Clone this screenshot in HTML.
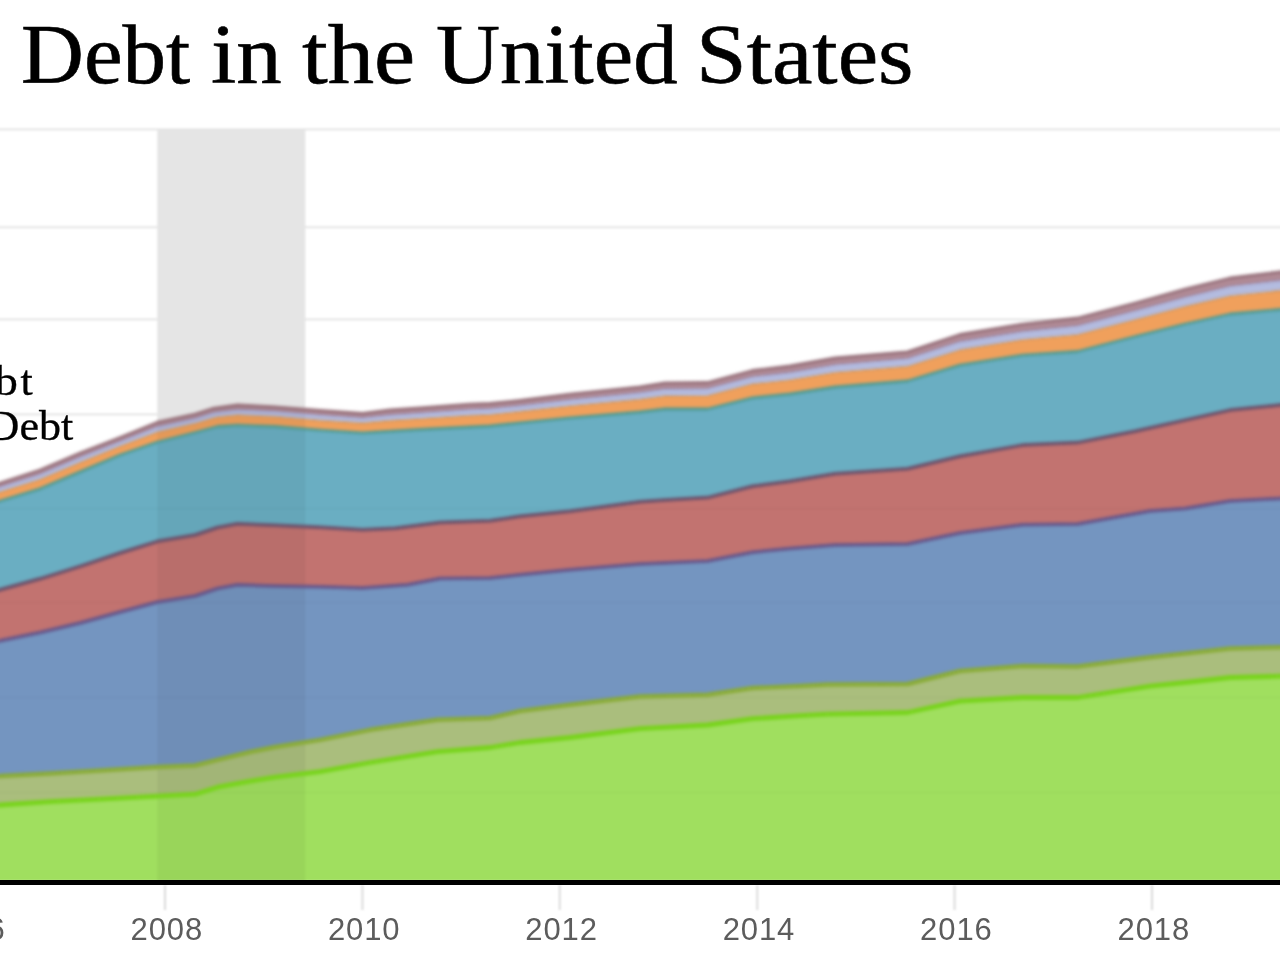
<!DOCTYPE html>
<html><head><meta charset="utf-8"><title>Debt in the United States</title>
<style>
html,body{margin:0;padding:0;background:#fff;overflow:hidden;}
body{width:1280px;height:960px;overflow:hidden;position:relative;}
.title{position:absolute;top:12.7px;font-family:"Liberation Serif",serif;font-size:84px;line-height:84px;color:#000;white-space:nowrap;transform-origin:0 0;-webkit-text-stroke:0.6px #000;}
.leg{position:absolute;font-family:"Liberation Serif",serif;font-size:42px;line-height:42px;color:#000;white-space:nowrap;text-align:right;transform-origin:100% 0;transform:scaleX(1.05);-webkit-text-stroke:0.3px #000;}
#title,.leg,.tick{filter:blur(0.6px);}
.tick{position:absolute;top:912px;width:120px;text-align:center;font-family:"Liberation Sans",sans-serif;font-size:31px;line-height:36px;color:#5c5c5c;letter-spacing:0.9px;text-indent:3.6px;}
#page{position:absolute;left:0;top:0;width:1280px;height:960px;overflow:hidden;background:#fff;}
</style></head><body>
<div id="page">
<svg width="1320" height="1000" viewBox="-20 -20 1320 1000" style="position:absolute;left:-20px;top:-20px;filter:blur(0.8px)">
<rect x="-20" y="128.2" width="1320" height="2.4" fill="#e9e9e9"/>
<rect x="-20" y="226.0" width="1320" height="2.4" fill="#e9e9e9"/>
<rect x="-20" y="318.2" width="1320" height="2.4" fill="#e9e9e9"/>
<rect x="-20" y="413.2" width="1320" height="2.4" fill="#e9e9e9"/>
<rect x="157.3" y="129" width="148" height="754" fill="#e5e5e5"/>
<polygon points="-20.0,805.7 0.0,805.0 50.0,801.7 100.0,799.2 157.5,796.2 195.0,794.2 217.5,787.2 250.0,781.2 275.0,777.2 320.0,771.7 370.0,762.5 437.5,751.7 490.0,747.5 520.0,742.5 570.0,737.5 640.0,728.7 707.5,725.0 752.5,718.7 800.0,715.7 827.5,714.2 907.5,712.5 960.0,701.2 1022.5,697.5 1077.5,697.5 1150.0,686.2 1185.0,682.5 1230.0,677.5 1280.0,676.2 1300.0,676.0 1300.0,881.0 -20.0,881.0" fill="#a0df5f"/>
<polygon points="-20.0,776.5 0.0,776.0 50.0,773.5 100.0,770.5 157.5,767.0 195.0,765.5 217.5,759.8 250.0,752.0 275.0,747.0 320.0,739.8 370.0,729.8 437.5,719.8 490.0,718.0 520.0,711.0 570.0,704.8 640.0,696.5 707.5,694.8 752.5,688.0 800.0,686.0 827.5,684.5 907.5,684.0 960.0,671.0 1022.5,666.0 1077.5,666.5 1150.0,657.2 1185.0,653.5 1230.0,648.5 1280.0,647.2 1300.0,647.0 1300.0,676.0 1280.0,676.2 1230.0,677.5 1185.0,682.5 1150.0,686.2 1077.5,697.5 1022.5,697.5 960.0,701.2 907.5,712.5 827.5,714.2 800.0,715.7 752.5,718.7 707.5,725.0 640.0,728.7 570.0,737.5 520.0,742.5 490.0,747.5 437.5,751.7 370.0,762.5 320.0,771.7 275.0,777.2 250.0,781.2 217.5,787.2 195.0,794.2 157.5,796.2 100.0,799.2 50.0,801.7 0.0,805.0 -20.0,805.7" fill="#aabe7d"/>
<polygon points="-20.0,643.0 0.0,640.8 40.0,632.5 80.0,623.0 120.0,612.0 157.5,602.0 195.0,596.0 217.5,588.5 237.5,584.8 275.0,586.0 320.0,586.8 362.5,588.0 407.5,584.8 440.0,578.5 490.0,578.0 520.0,574.8 570.0,569.8 640.0,564.0 707.5,561.0 752.5,552.2 790.0,548.5 835.0,545.0 907.5,544.0 960.0,533.0 1022.5,524.8 1077.5,524.0 1150.0,511.0 1185.0,508.5 1230.0,501.0 1280.0,498.5 1300.0,498.0 1300.0,647.0 1280.0,647.2 1230.0,648.5 1185.0,653.5 1150.0,657.2 1077.5,666.5 1022.5,666.0 960.0,671.0 907.5,684.0 827.5,684.5 800.0,686.0 752.5,688.0 707.5,694.8 640.0,696.5 570.0,704.8 520.0,711.0 490.0,718.0 437.5,719.8 370.0,729.8 320.0,739.8 275.0,747.0 250.0,752.0 217.5,759.8 195.0,765.5 157.5,767.0 100.0,770.5 50.0,773.5 0.0,776.0 -20.0,776.5" fill="#7495c0"/>
<polygon points="-20.0,594.3 0.0,589.8 40.0,578.8 80.0,566.3 120.0,553.0 157.5,541.3 195.0,535.0 217.5,527.5 237.5,523.8 275.0,525.3 320.0,527.3 362.5,529.8 395.0,528.3 440.0,522.5 490.0,520.8 520.0,516.3 570.0,511.3 640.0,501.8 665.0,500.1 707.5,497.6 752.5,486.3 790.0,481.3 835.0,473.8 907.5,468.8 960.0,456.3 1022.5,445.1 1077.5,442.6 1135.0,431.3 1185.0,420.1 1230.0,410.1 1280.0,405.1 1300.0,404.3 1300.0,498.0 1280.0,498.5 1230.0,501.0 1185.0,508.5 1150.0,511.0 1077.5,524.0 1022.5,524.8 960.0,533.0 907.5,544.0 835.0,545.0 790.0,548.5 752.5,552.2 707.5,561.0 640.0,564.0 570.0,569.8 520.0,574.8 490.0,578.0 440.0,578.5 407.5,584.8 362.5,588.0 320.0,586.8 275.0,586.0 237.5,584.8 217.5,588.5 195.0,596.0 157.5,602.0 120.0,612.0 80.0,623.0 40.0,632.5 0.0,640.8 -20.0,643.0" fill="#c27370"/>
<polygon points="-20.0,505.5 0.0,501.0 40.0,488.8 80.0,471.9 120.0,455.0 157.5,442.0 195.0,432.5 217.5,426.5 237.5,425.2 275.0,426.5 320.0,430.2 362.5,432.8 420.0,429.5 490.0,426.0 520.0,422.8 570.0,417.8 640.0,412.0 665.0,409.0 707.5,409.0 752.5,397.8 790.0,394.0 835.0,387.0 907.5,381.0 960.0,365.2 1022.5,355.2 1077.5,351.5 1135.0,336.5 1185.0,324.0 1230.0,314.0 1280.0,309.5 1300.0,308.5 1300.0,404.3 1280.0,405.1 1230.0,410.1 1185.0,420.1 1135.0,431.3 1077.5,442.6 1022.5,445.1 960.0,456.3 907.5,468.8 835.0,473.8 790.0,481.3 752.5,486.3 707.5,497.6 665.0,500.1 640.0,501.8 570.0,511.3 520.0,516.3 490.0,520.8 440.0,522.5 395.0,528.3 362.5,529.8 320.0,527.3 275.0,525.3 237.5,523.8 217.5,527.5 195.0,535.0 157.5,541.3 120.0,553.0 80.0,566.3 40.0,578.8 0.0,589.8 -20.0,594.3" fill="#6aaec2"/>
<polygon points="-20.0,496.5 0.0,492.0 40.0,479.4 80.0,462.4 120.0,446.2 157.5,432.1 195.0,423.4 212.5,418.2 217.5,417.1 237.5,415.1 275.0,416.6 320.0,420.4 362.5,423.1 390.0,420.6 420.0,418.8 470.0,415.6 490.0,414.8 520.0,411.6 570.0,406.0 640.0,399.4 665.0,396.0 707.5,395.8 752.5,384.1 790.0,380.0 835.0,372.5 907.5,366.4 960.0,349.9 1022.5,339.8 1077.5,334.8 1135.0,319.8 1185.0,306.6 1230.0,296.0 1280.0,290.6 1300.0,289.5 1300.0,308.5 1280.0,309.5 1230.0,314.0 1185.0,324.0 1135.0,336.5 1077.5,351.5 1022.5,355.2 960.0,365.2 907.5,381.0 835.0,387.0 790.0,394.0 752.5,397.8 707.5,409.0 665.0,409.0 640.0,412.0 570.0,417.8 520.0,422.8 490.0,426.0 420.0,429.5 362.5,432.8 320.0,430.2 275.0,426.5 237.5,425.2 217.5,426.5 195.0,432.5 157.5,442.0 120.0,455.0 80.0,471.9 40.0,488.8 0.0,501.0 -20.0,505.5" fill="#f0a05c"/>
<polygon points="-20.0,491.6 0.0,487.1 40.0,474.3 80.0,457.3 120.0,441.5 157.5,426.8 195.0,418.4 212.5,412.9 217.5,412.1 237.5,409.7 275.0,411.3 320.0,415.0 362.5,417.9 390.0,414.9 420.0,412.9 470.0,409.5 490.0,408.7 520.0,405.6 570.0,399.7 640.0,392.6 665.0,389.0 707.5,388.6 752.5,376.8 790.0,372.4 835.0,364.7 907.5,358.5 960.0,341.6 1022.5,331.4 1077.5,325.7 1135.0,310.7 1185.0,297.2 1230.0,286.3 1280.0,280.4 1300.0,279.2 1300.0,289.5 1280.0,290.6 1230.0,296.0 1185.0,306.6 1135.0,319.8 1077.5,334.8 1022.5,339.8 960.0,349.9 907.5,366.4 835.0,372.5 790.0,380.0 752.5,384.1 707.5,395.8 665.0,396.0 640.0,399.4 570.0,406.0 520.0,411.6 490.0,414.8 470.0,415.6 420.0,418.8 390.0,420.6 362.5,423.1 320.0,420.4 275.0,416.6 237.5,415.1 217.5,417.1 212.5,418.2 195.0,423.4 157.5,432.1 120.0,446.2 80.0,462.4 40.0,479.4 0.0,492.0 -20.0,496.5" fill="#b4bce0"/>
<polygon points="-20.0,487.5 0.0,483.0 40.0,470.0 80.0,453.0 120.0,437.5 157.5,422.2 195.0,414.2 212.5,408.5 237.5,405.0 275.0,406.8 320.0,410.5 362.5,413.5 390.0,410.0 420.0,408.0 470.0,404.2 490.0,403.5 520.0,400.5 570.0,394.2 640.0,386.8 665.0,383.0 707.5,382.5 752.5,370.5 790.0,366.0 835.0,358.0 907.5,351.8 960.0,334.5 1022.5,324.2 1077.5,318.0 1135.0,303.0 1185.0,289.2 1230.0,278.0 1280.0,271.8 1300.0,270.5 1300.0,279.2 1280.0,280.4 1230.0,286.3 1185.0,297.2 1135.0,310.7 1077.5,325.7 1022.5,331.4 960.0,341.6 907.5,358.5 835.0,364.7 790.0,372.4 752.5,376.8 707.5,388.6 665.0,389.0 640.0,392.6 570.0,399.7 520.0,405.6 490.0,408.7 470.0,409.5 420.0,412.9 390.0,414.9 362.5,417.9 320.0,415.0 275.0,411.3 237.5,409.7 217.5,412.1 212.5,412.9 195.0,418.4 157.5,426.8 120.0,441.5 80.0,457.3 40.0,474.3 0.0,487.1 -20.0,491.6" fill="#b08a95"/>
<rect x="-20" y="507.8" width="1320" height="2" fill="#000" opacity="0.02"/>
<rect x="-20" y="601.5" width="1320" height="2" fill="#000" opacity="0.02"/>
<rect x="-20" y="696.5" width="1320" height="2" fill="#000" opacity="0.02"/>
<rect x="-20" y="791.5" width="1320" height="2" fill="#000" opacity="0.02"/>
<clipPath id="ca"><polygon points="-20.0,487.5 0.0,483.0 40.0,470.0 80.0,453.0 120.0,437.5 157.5,422.2 195.0,414.2 212.5,408.5 237.5,405.0 275.0,406.8 320.0,410.5 362.5,413.5 390.0,410.0 420.0,408.0 470.0,404.2 490.0,403.5 520.0,400.5 570.0,394.2 640.0,386.8 665.0,383.0 707.5,382.5 752.5,370.5 790.0,366.0 835.0,358.0 907.5,351.8 960.0,334.5 1022.5,324.2 1077.5,318.0 1135.0,303.0 1185.0,289.2 1230.0,278.0 1280.0,271.8 1300.0,270.5 1300.0,881.0 -20.0,881.0"/></clipPath>
<rect x="157.3" y="395" width="148" height="488" fill="#000" opacity="0.045" clip-path="url(#ca)"/>
<g style="filter:blur(1px)">
<polyline points="-20.0,805.7 0.0,805.0 50.0,801.7 100.0,799.2 157.5,796.2 195.0,794.2 217.5,787.2 250.0,781.2 275.0,777.2 320.0,771.7 370.0,762.5 437.5,751.7 490.0,747.5 520.0,742.5 570.0,737.5 640.0,728.7 707.5,725.0 752.5,718.7 800.0,715.7 827.5,714.2 907.5,712.5 960.0,701.2 1022.5,697.5 1077.5,697.5 1150.0,686.2 1185.0,682.5 1230.0,677.5 1280.0,676.2 1300.0,676.0" fill="none" stroke="#78d41c" stroke-width="4.8" stroke-linejoin="round"/>
<polyline points="-20.0,776.5 0.0,776.0 50.0,773.5 100.0,770.5 157.5,767.0 195.0,765.5 217.5,759.8 250.0,752.0 275.0,747.0 320.0,739.8 370.0,729.8 437.5,719.8 490.0,718.0 520.0,711.0 570.0,704.8 640.0,696.5 707.5,694.8 752.5,688.0 800.0,686.0 827.5,684.5 907.5,684.0 960.0,671.0 1022.5,666.0 1077.5,666.5 1150.0,657.2 1185.0,653.5 1230.0,648.5 1280.0,647.2 1300.0,647.0" fill="none" stroke="#8aac38" stroke-width="4.4" stroke-linejoin="round"/>
<polyline points="-20.0,643.0 0.0,640.8 40.0,632.5 80.0,623.0 120.0,612.0 157.5,602.0 195.0,596.0 217.5,588.5 237.5,584.8 275.0,586.0 320.0,586.8 362.5,588.0 407.5,584.8 440.0,578.5 490.0,578.0 520.0,574.8 570.0,569.8 640.0,564.0 707.5,561.0 752.5,552.2 790.0,548.5 835.0,545.0 907.5,544.0 960.0,533.0 1022.5,524.8 1077.5,524.0 1150.0,511.0 1185.0,508.5 1230.0,501.0 1280.0,498.5 1300.0,498.0" fill="none" stroke="#66568a" stroke-width="3.5" stroke-linejoin="round"/>
<polyline points="-20.0,594.3 0.0,589.8 40.0,578.8 80.0,566.3 120.0,553.0 157.5,541.3 195.0,535.0 217.5,527.5 237.5,523.8 275.0,525.3 320.0,527.3 362.5,529.8 395.0,528.3 440.0,522.5 490.0,520.8 520.0,516.3 570.0,511.3 640.0,501.8 665.0,500.1 707.5,497.6 752.5,486.3 790.0,481.3 835.0,473.8 907.5,468.8 960.0,456.3 1022.5,445.1 1077.5,442.6 1135.0,431.3 1185.0,420.1 1230.0,410.1 1280.0,405.1 1300.0,404.3" fill="none" stroke="#6c506a" stroke-width="3.5" stroke-linejoin="round"/>
<polyline points="-20.0,505.5 0.0,501.0 40.0,488.8 80.0,471.9 120.0,455.0 157.5,442.0 195.0,432.5 217.5,426.5 237.5,425.2 275.0,426.5 320.0,430.2 362.5,432.8 420.0,429.5 490.0,426.0 520.0,422.8 570.0,417.8 640.0,412.0 665.0,409.0 707.5,409.0 752.5,397.8 790.0,394.0 835.0,387.0 907.5,381.0 960.0,365.2 1022.5,355.2 1077.5,351.5 1135.0,336.5 1185.0,324.0 1230.0,314.0 1280.0,309.5 1300.0,308.5" fill="none" stroke="#4f9a90" stroke-width="2.8" stroke-linejoin="round"/>
<polyline points="-20.0,496.5 0.0,492.0 40.0,479.4 80.0,462.4 120.0,446.2 157.5,432.1 195.0,423.4 212.5,418.2 217.5,417.1 237.5,415.1 275.0,416.6 320.0,420.4 362.5,423.1 390.0,420.6 420.0,418.8 470.0,415.6 490.0,414.8 520.0,411.6 570.0,406.0 640.0,399.4 665.0,396.0 707.5,395.8 752.5,384.1 790.0,380.0 835.0,372.5 907.5,366.4 960.0,349.9 1022.5,339.8 1077.5,334.8 1135.0,319.8 1185.0,306.6 1230.0,296.0 1280.0,290.6 1300.0,289.5" fill="none" stroke="#c89a70" stroke-width="1.6" stroke-linejoin="round"/>
<polyline points="-20.0,491.6 0.0,487.1 40.0,474.3 80.0,457.3 120.0,441.5 157.5,426.8 195.0,418.4 212.5,412.9 217.5,412.1 237.5,409.7 275.0,411.3 320.0,415.0 362.5,417.9 390.0,414.9 420.0,412.9 470.0,409.5 490.0,408.7 520.0,405.6 570.0,399.7 640.0,392.6 665.0,389.0 707.5,388.6 752.5,376.8 790.0,372.4 835.0,364.7 907.5,358.5 960.0,341.6 1022.5,331.4 1077.5,325.7 1135.0,310.7 1185.0,297.2 1230.0,286.3 1280.0,280.4 1300.0,279.2" fill="none" stroke="#9c90b4" stroke-width="1.6" stroke-linejoin="round"/>
<polyline points="-20.0,487.5 0.0,483.0 40.0,470.0 80.0,453.0 120.0,437.5 157.5,422.2 195.0,414.2 212.5,408.5 237.5,405.0 275.0,406.8 320.0,410.5 362.5,413.5 390.0,410.0 420.0,408.0 470.0,404.2 490.0,403.5 520.0,400.5 570.0,394.2 640.0,386.8 665.0,383.0 707.5,382.5 752.5,370.5 790.0,366.0 835.0,358.0 907.5,351.8 960.0,334.5 1022.5,324.2 1077.5,318.0 1135.0,303.0 1185.0,289.2 1230.0,278.0 1280.0,271.8 1300.0,270.5" fill="none" stroke="#96707a" stroke-width="2.8" stroke-linejoin="round"/>
</g>
<rect x="164.0" y="885" width="2" height="25" fill="#dcdcdc"/>
<rect x="361.4" y="885" width="2" height="25" fill="#dcdcdc"/>
<rect x="558.8" y="885" width="2" height="25" fill="#dcdcdc"/>
<rect x="756.2" y="885" width="2" height="25" fill="#dcdcdc"/>
<rect x="953.6" y="885" width="2" height="25" fill="#dcdcdc"/>
<rect x="1151.0" y="885" width="2" height="25" fill="#dcdcdc"/>
</svg>
<div style="position:absolute;left:-10px;width:1300px;top:880.4px;height:4.8px;background:#000;filter:blur(0.5px)"></div>
<div id="title"><span class="title" style="left:20.73px;transform:scaleX(1.0366)">Debt</span><span class="title" style="left:211.2px;transform:scaleX(1.081)">in</span><span class="title" style="left:301.7px;transform:scaleX(1.103)">the</span><span class="title" style="left:435.64px;transform:scaleX(1.0564)">United</span><span class="title" style="left:695.9px;transform:scaleX(1.084)">States</span></div>
<div class="leg" id="leg1" style="right:1262px;top:359.75px;transform:scaleX(1.1)">Mortgage Deb</div>
<div class="leg" id="leg1t" style="right:1247.5px;top:359.75px">t</div>
<div class="leg" id="leg2" style="right:1207px;top:404.75px">Student Loan Debt</div>
<div class="tick" style="left:-92.4px">2006</div>
<div class="tick" style="left:105.0px">2008</div>
<div class="tick" style="left:302.4px">2010</div>
<div class="tick" style="left:499.8px">2012</div>
<div class="tick" style="left:697.2px">2014</div>
<div class="tick" style="left:894.6px">2016</div>
<div class="tick" style="left:1092.0px">2018</div>
</div>
</body></html>
